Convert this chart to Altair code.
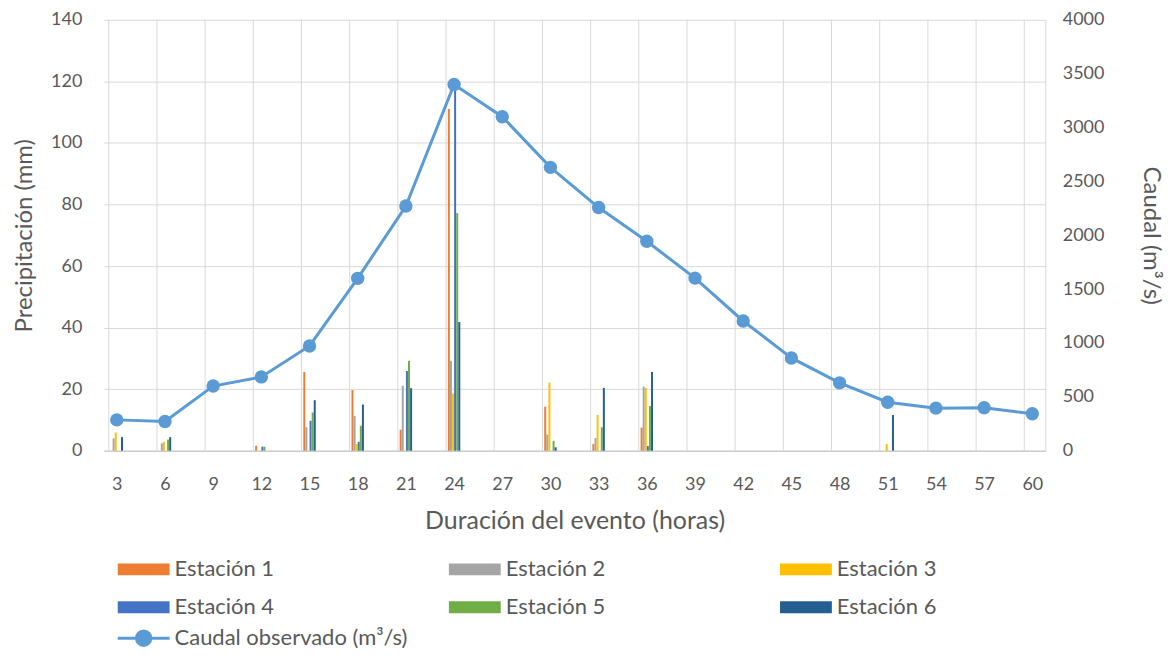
import altair as alt
import pandas as pd

horas = [3, 6, 9, 12, 15, 18, 21, 24, 27, 30, 33, 36, 39, 42, 45, 48, 51, 54, 57, 60]
estaciones = ["Estación 1", "Estación 2", "Estación 3", "Estación 4", "Estación 5", "Estación 6"]
est1 = [0, 0, 0, 1.6, 25.6, 19.7, 6.8, 111.0, 0, 14.3, 2.2, 7.5, 0, 0, 0, 0, 0, 0, 0, 0]
est2 = [4.0, 2.4, 0, 0, 7.6, 11.3, 21.1, 29.2, 0, 5.2, 4.1, 20.8, 0, 0, 0, 0, 0, 0, 0, 0]
est3 = [5.9, 2.9, 0, 0, 0, 2.2, 0, 18.6, 0, 22.1, 11.6, 20.4, 0, 0, 0, 0, 2.2, 0, 0, 0]
est4 = [0, 0, 0, 1.3, 9.7, 2.9, 25.9, 119.0, 0, 0, 0, 1.5, 0, 0, 0, 0, 0, 0, 0, 0]
est5 = [0, 3.6, 0, 1.3, 12.4, 8.1, 29.2, 77.2, 0, 3.2, 7.6, 14.5, 0, 0, 0, 0, 0, 0, 0, 0]
est6 = [4.4, 4.4, 0, 0, 16.4, 15.0, 20.3, 41.8, 0, 1.1, 20.4, 25.6, 0, 0, 0, 0, 11.6, 0, 0, 0]
caudal = [286, 271, 600, 685, 972, 1600, 2271, 3400, 3100, 2630, 2257, 1944, 1602, 1204, 861, 630, 450, 395, 398, 343]
serie_caudal = "Caudal observado (m³/s)"

colores = ["#ED7D31", "#A5A5A5", "#FFC000", "#4472C4", "#70AD47", "#255E91"]
linea_color = "#5B9BD5"
FONT = "Lato"
TXT = "#595959"
GRID = "#d9d9d9"

rows = []
for i, serie in enumerate([est1, est2, est3, est4, est5, est6]):
    for h, v in zip(horas, serie):
        rows.append({"hora": h, "estacion": estaciones[i], "idx": i, "precip": v})
bars_df = pd.DataFrame(rows)
line_df = pd.DataFrame({"hora": horas, "caudal": caudal, "serie": [serie_caudal] * len(horas)})
grid_df = pd.DataFrame({"hora": horas})

xscale = alt.Scale(domain=[2.5, 60.5], nice=False, zero=False)
xaxis = alt.Axis(values=horas, grid=False, ticks=False, labelPadding=25,
                 title="Duración del evento (horas)", titlePadding=15,
                 domainColor="#bfbfbf", labelFontSize=18, titleFontSize=25)
yr_scale = alt.Scale(domain=[0, 4000], nice=False)
yr_axis = alt.Axis(orient="right", values=list(range(0, 4001, 500)), grid=False, ticks=False,
                   format="d", labelPadding=17, domain=True, domainColor=GRID,
                   title="Caudal (m³/s)", titlePadding=35,
                   labelFontSize=18, titleFontSize=24)

grid = alt.Chart(grid_df).transform_calculate(g="datum.hora - 0.5").mark_rule(
    color=GRID, strokeWidth=1
).encode(x=alt.X("g:Q", scale=xscale, axis=xaxis))

bars = alt.Chart(bars_df).transform_calculate(
    xpos="datum.hora + (datum.idx - 2.5) * 0.13"
).mark_bar(width=2).encode(
    x=alt.X("xpos:Q", scale=xscale, axis=xaxis),
    y=alt.Y("precip:Q", scale=alt.Scale(domain=[0, 140], nice=False),
            axis=alt.Axis(orient="left", values=list(range(0, 141, 20)), grid=True, gridColor=GRID,
                          ticks=False, labelPadding=22, domain=False,
                          title="Precipitación (mm)", titlePadding=14,
                          labelFontSize=18, titleFontSize=24)),
    color=alt.Color("estacion:N", scale=alt.Scale(domain=estaciones, range=colores),
                    legend=alt.Legend(title=None, orient="none", legendX=29, legendY=540, columns=3,
                                      direction="horizontal",
                                      columnPadding=175, rowPadding=16, labelFontSize=22,
                                      labelOffset=20, labelColor=TXT, labelFont=FONT, labelLimit=400,
                                      symbolType="M-4.33,-1H4.33V1H-4.33Z", symbolSize=144,
                                      symbolStrokeWidth=0, symbolOpacity=1, padding=0)),
)

linea = alt.Chart(line_df).mark_line(strokeWidth=3, color=linea_color).encode(
    x=alt.X("hora:Q", scale=xscale, axis=xaxis),
    y=alt.Y("caudal:Q", scale=yr_scale, axis=yr_axis),
    stroke=alt.Stroke("serie:N", scale=alt.Scale(domain=[serie_caudal], range=[linea_color]),
                      legend=alt.Legend(title=None, orient="none", legendX=29, legendY=609,
                                        labelFontSize=22, labelOffset=20, labelColor=TXT, labelFont=FONT,
                                        labelLimit=400,
                                        symbolType="M-4.33,0H4.33M1.2,0A1.2,1.2,0,1,1,-1.2,0A1.2,1.2,0,1,1,1.2,0Z",
                                        symbolSize=144, padding=0,
                                        symbolFillColor=linea_color, symbolStrokeColor=linea_color,
                                        symbolStrokeWidth=3, symbolOpacity=1)),
)

puntos = alt.Chart(line_df).mark_circle(size=180, color=linea_color, opacity=1).encode(
    x=alt.X("hora:Q", scale=xscale, axis=xaxis),
    y=alt.Y("caudal:Q", scale=yr_scale, axis=yr_axis),
)

derecha = alt.layer(linea, puntos)

chart = alt.layer(grid, bars, derecha).resolve_scale(
    y="independent", color="independent"
).properties(
    width=944, height=432,
    background="white",
    autosize=alt.AutoSizeParams(type="none"),
    padding={"left": 96, "top": 11, "right": 122, "bottom": 199},
).configure_view(stroke=None).configure_axis(
    labelFont=FONT, titleFont=FONT, labelColor=TXT, titleColor=TXT, titleFontWeight="normal"
)

chart.save("out.html", embed_options={"renderer": "svg", "actions": False})
